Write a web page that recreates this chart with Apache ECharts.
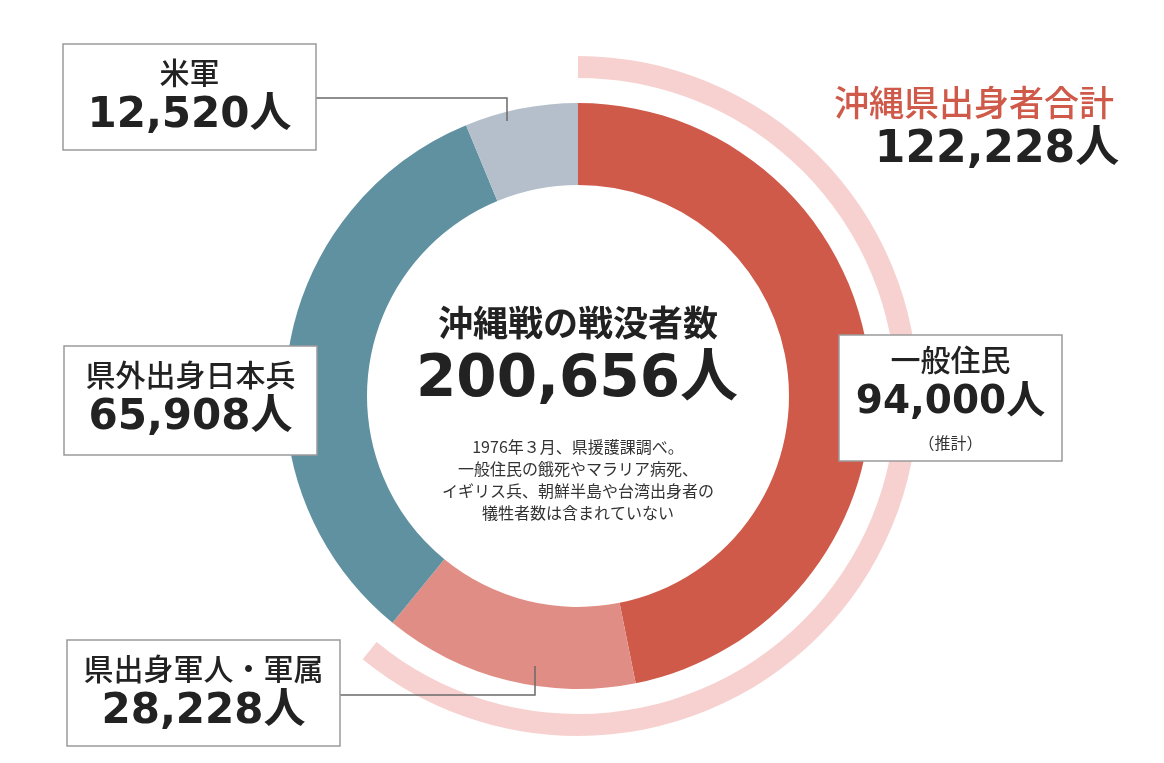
<!DOCTYPE html>
<html>
<head>
<meta charset="utf-8">
<script src="https://cdn.jsdelivr.net/npm/echarts@6/dist/echarts.min.js"></script>
<style>
  html, body { margin: 0; padding: 0; background: #fff; }
  #chart { width: 1164px; height: 763px; }
</style>
</head>
<body>
<div id="chart"></div>
<script>
// 沖縄戦の戦没者数（1976年3月、県援護課調べ）
var categories = ['一般住民', '県出身軍人・軍属', '県外出身日本兵', '米軍'];
var deaths = [94000, 28228, 65908, 12520];
var fromOkinawa = [true, true, false, false];
var notes = [
    '1976年３月、県援護課調べ。',
    '一般住民の餓死やマラリア病死、',
    'イギリス兵、朝鮮半島や台湾出身者の',
    '犠牲者数は含まれていない'
];

var sliceColors = ['#d05a4a', '#e08e85', '#6091a1', '#b5bfcb'];

function fmt(n) {
    return n.toString().replace(/\B(?=(\d{3})+(?!\d))/g, ',') + '人';
}

var total = 0, okinawaTotal = 0;
for (var i = 0; i < deaths.length; i++) {
    total += deaths[i];
    if (fromOkinawa[i]) okinawaTotal += deaths[i];
}

var NUM_FONT = "'DejaVu Sans', 'Noto Sans CJK JP', sans-serif";
var JP_FONT = "'Noto Sans CJK JP', sans-serif";

function txt(text, x, y, font, fill) {
    return {
        type: 'text', silent: true, z: 20,
        style: {
            text: text, x: x, y: y, font: font, fill: fill || '#222',
            align: 'center', verticalAlign: 'middle',
            textAlign: 'center', textVerticalAlign: 'middle'
        }
    };
}

// label box around one slice name + value
function box(idx, x, y, w, h, numSize, extra) {
    var cx = x + w / 2;
    var els = [
        {
            type: 'rect', silent: true, z: 15,
            shape: {x: x, y: y, width: w, height: h},
            style: {fill: '#fff', stroke: '#9a9a9a', lineWidth: 1.5}
        }
    ];
    var dy = extra ? -4 : 0;
    els.push(txt(categories[idx], cx, y + 29 + dy, '500 30px ' + JP_FONT, '#222'));
    els.push(txt(fmt(deaths[idx]), cx, y + 72 + dy, 'bold ' + numSize + 'px ' + NUM_FONT, '#222'));
    if (extra) {
        els.push(txt(extra, cx, y + h - 18, '16px ' + JP_FONT, '#333'));
    }
    return els;
}

var graphics = [];
// leader lines
graphics.push({
    type: 'polyline', silent: true, z: 12,
    shape: {points: [[316, 98], [507, 98], [507, 121]]},
    style: {stroke: '#6a6a6a', lineWidth: 1.5, fill: null}
});
graphics.push({
    type: 'polyline', silent: true, z: 12,
    shape: {points: [[340, 695], [535, 695], [535, 666]]},
    style: {stroke: '#6a6a6a', lineWidth: 1.5, fill: null}
});
graphics = graphics.concat(box(3, 63, 44, 253, 106, 42));
graphics = graphics.concat(box(2, 64, 346, 253, 109, 42));
graphics = graphics.concat(box(1, 67, 640, 273, 106, 42));
graphics = graphics.concat(box(0, 839, 335, 223, 126, 39, '（推計）'));

// center texts
graphics.push(txt('沖縄戦の戦没者数', 578, 323, 'bold 35px ' + JP_FONT, '#222'));
graphics.push(txt(fmt(total), 577, 381, 'bold 58px ' + NUM_FONT, '#222'));
for (var n = 0; n < notes.length; n++) {
    graphics.push(txt(notes[n], 578, 447 + n * 22, '16px ' + JP_FONT, '#333'));
}
// okinawa total
graphics.push(txt('沖縄県出身者合計', 974, 103, '500 35px ' + JP_FONT, '#d05a4a'));
graphics.push(txt(fmt(okinawaTotal), 997, 151, 'bold 44px ' + NUM_FONT, '#222'));

var pieData = [];
for (var k = 0; k < categories.length; k++) {
    pieData.push({name: categories[k], value: deaths[k], itemStyle: {color: sliceColors[k]}});
}

var chart = echarts.init(document.getElementById('chart'), null, {renderer: 'canvas'});
chart.setOption({
    backgroundColor: '#fff',
    animation: false,
    series: [
        {
            type: 'pie',
            center: [578, 396],
            radius: [211, 293],
            startAngle: 90,
            clockwise: true,
            silent: true,
            label: {show: false},
            labelLine: {show: false},
            data: pieData
        },
        {
            type: 'pie',
            center: [578, 396],
            radius: [318, 340],
            startAngle: 90,
            clockwise: true,
            silent: true,
            label: {show: false},
            labelLine: {show: false},
            data: [
                {name: '沖縄県出身者合計', value: okinawaTotal, itemStyle: {color: '#f6d1cf'}},
                {name: 'その他', value: total - okinawaTotal, itemStyle: {color: 'rgba(0,0,0,0)'}}
            ]
        }
    ],
    graphic: graphics
});
</script>
</body>
</html>
